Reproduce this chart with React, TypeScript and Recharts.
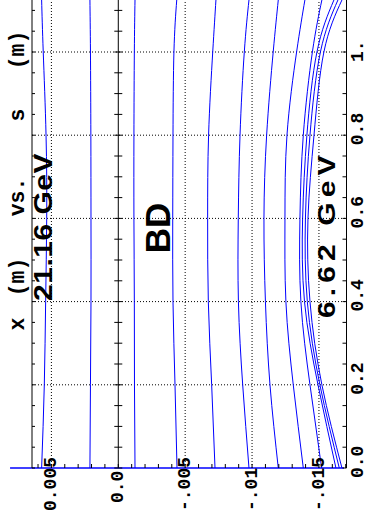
import React from "react";
import { LineChart, Line, XAxis, YAxis, ReferenceLine, ReferenceDot } from "recharts";

// s positions (m) where the orbits were read
const sPoints = [0, 0.2, 0.4, 0.6, 0.8, 1.0, 1.125];

// horizontal orbit x (m) for each trajectory
const orbit1 = [0.00573, 0.00553, 0.00543, 0.00535, 0.0054, 0.00561, 0.00573];
const orbit2 = [0.00212, 0.00208, 0.00204, 0.00204, 0.00205, 0.00208, 0.00212];
const orbit3 = [-0.00125, -0.00121, -0.0012, -0.00117, -0.00117, -0.0012, -0.00125];
const orbit4 = [-0.00439, -0.00424, -0.00409, -0.00407, -0.00409, -0.00416, -0.00437];
const orbit5 = [-0.00723, -0.00698, -0.00673, -0.00668, -0.00675, -0.00706, -0.0073];
const orbit6 = [-0.00977, -0.0093, -0.00898, -0.00897, -0.0091, -0.00942, -0.00977];
const orbit7 = [-0.01196, -0.01134, -0.011, -0.01089, -0.01109, -0.01158, -0.01196];
const orbit8 = [-0.01383, -0.01308, -0.01253, -0.01246, -0.01261, -0.01333, -0.01395];
const orbit9 = [-0.0152, -0.01433, -0.01365, -0.01358, -0.01383, -0.01451, -0.01522];
const orbit10 = [-0.01627, -0.01493, -0.01392, -0.01378, -0.0141, -0.01485, -0.01612];
const orbit11 = [-0.01652, -0.01507, -0.01413, -0.01399, -0.01433, -0.01511, -0.01642];
const orbit12 = [-0.01672, -0.01522, -0.01433, -0.01418, -0.01463, -0.01537, -0.01672];

const orbits = [orbit1, orbit2, orbit3, orbit4, orbit5, orbit6, orbit7, orbit8, orbit9, orbit10, orbit11, orbit12];

// beam line drawn along s = 0
const beamLine = [0.00809, -0.01687];

const xMajorTicks = [0.005, 0, -0.005, -0.01, -0.015];
const xTickLabels = ["0.005", "0.0", "-.005", "-.01", "-.015"];
const sMajorTicks = [0, 0.2, 0.4, 0.6, 0.8, 1.0];
const sTickLabels = ["0.0", "0.2", "0.4", "0.6", "0.8", "1."];

const xMinorTicks = Array.from({ length: 24 }, (_, i) => (i - 17) / 1000);
const sMinorTicks = Array.from({ length: 23 }, (_, i) => i / 20);

const rows = sPoints.map((s, i) => {
  const row: Record<string, number> = { s };
  orbits.forEach((o, k) => (row[`o${k + 1}`] = o[i]));
  return row;
});

const mono = "'Liberation Mono', 'DejaVu Sans Mono', monospace";
const sans = "'Liberation Sans', Arial, sans-serif";

const findLabel = (v: number, ticks: number[], labels: string[]) => {
  const i = ticks.findIndex((t) => Math.abs(t - v) < 1e-9);
  return i >= 0 ? labels[i] : null;
};

const BottomTick = (props: any) => {
  const { x, y, payload } = props;
  const label = findLabel(payload.value, xMajorTicks, xTickLabels);
  const start = label === "0.0" ? y + 35 : y + 43;
  return (
    <g>
      <line x1={x} y1={y} x2={x} y2={y - 4} stroke="#000" />
      {label && (
        <text
          transform={`translate(${x + 5},${start}) rotate(-90)`}
          textAnchor="start"
          fontFamily={mono}
          fontWeight="bold"
          fontSize={18}
          fill="#000"
        >
          {label}
        </text>
      )}
    </g>
  );
};

const TopTick = (props: any) => {
  const { x, y } = props;
  return <line x1={x} y1={y} x2={x} y2={y + 3} stroke="#000" />;
};

const LeftTick = (props: any) => {
  const { x, y } = props;
  return <line x1={x} y1={y} x2={x + 3} y2={y} stroke="#000" />;
};

const RightTick = (props: any) => {
  const { x, y, payload } = props;
  const label = findLabel(payload.value, sMajorTicks, sTickLabels);
  return (
    <g>
      <line x1={x} y1={y} x2={x - 4} y2={y} stroke="#000" />
      {label && (
        <text
          transform={`translate(${x + 16},${y + 10}) rotate(-90)`}
          textAnchor="start"
          fontFamily={mono}
          fontWeight="bold"
          fontSize={18}
          fill="#000"
        >
          {label}
        </text>
      )}
    </g>
  );
};

const ZeroTick = (props: any) => {
  const { cx, cy } = props;
  return <line x1={cx - 4} y1={cy} x2={cx + 4} y2={cy} stroke="#000" />;
};

export default function App() {
  return (
    <div style={{ position: "absolute", left: 0, top: 0, width: 368, height: 519, background: "#fff" }}>
      <LineChart
        width={368}
        height={519}
        data={rows}
        layout="vertical"
        margin={{ top: 0, right: 0, bottom: 0, left: 0 }}
      >
        <XAxis
          xAxisId={0}
          type="number"
          orientation="bottom"
          domain={[-0.01706, 0.00645]}
          allowDataOverflow
          reversed
          ticks={xMinorTicks}
          interval={0}
          height={51}
          axisLine={false}
          tickLine={false}
          tickSize={0}
          tickMargin={0}
          tick={<BottomTick />}
        />
        <XAxis
          xAxisId="top"
          type="number"
          orientation="top"
          domain={[-0.01706, 0.00645]}
          allowDataOverflow
          reversed
          ticks={xMinorTicks}
          interval={0}
          height={0}
          axisLine={false}
          tickLine={false}
          tickSize={0}
          tickMargin={0}
          tick={<TopTick />}
        />
        <YAxis
          yAxisId={0}
          type="number"
          dataKey="s"
          orientation="left"
          domain={[0, 1.125]}
          allowDataOverflow
          reversed
          ticks={sMinorTicks}
          interval={0}
          width={32}
          axisLine={{ stroke: "#000" }}
          tickLine={false}
          tickSize={0}
          tickMargin={0}
          tick={<LeftTick />}
        />
        <YAxis
          yAxisId="right"
          type="number"
          dataKey="s"
          orientation="right"
          domain={[0, 1.125]}
          allowDataOverflow
          reversed
          ticks={sMinorTicks}
          interval={0}
          width={21.5}
          axisLine={{ stroke: "#000" }}
          tickLine={false}
          tickSize={0}
          tickMargin={0}
          tick={<RightTick />}
        />
        {xMajorTicks
          .filter((v) => v !== 0)
          .map((v) => (
            <ReferenceLine key={`gx${v}`} x={v} stroke="#000" strokeDasharray="1 2" />
          ))}
        {sMajorTicks
          .filter((v) => v !== 0)
          .map((v) => (
            <ReferenceLine key={`gs${v}`} y={v} stroke="#000" strokeDasharray="1 2" />
          ))}
        <ReferenceLine x={0} stroke="#000" strokeWidth={1} />
        {sMinorTicks.map((s) => (
          <ReferenceDot key={`zt${s}`} x={0} y={s} r={0} ifOverflow="visible" shape={<ZeroTick />} />
        ))}
        {orbits.map((_, k) => (
          <Line
            key={k}
            dataKey={`o${k + 1}`}
            type="natural"
            stroke="#0000ff"
            strokeWidth={1}
            dot={false}
            activeDot={false}
            isAnimationActive={false}
          />
        ))}
        <ReferenceLine
          segment={[
            { x: beamLine[0], y: 0 },
            { x: beamLine[1], y: 0 },
          ]}
          stroke="#0000ff"
          strokeWidth={1.5}
          ifOverflow="visible"
        />
      </LineChart>
      <svg
        width={368}
        height={519}
        style={{ position: "absolute", left: 0, top: 0, pointerEvents: "none" }}
      >
        <g fontFamily={mono} fontWeight="bold" fontSize={21.5} fill="#000" textAnchor="middle">
          <text transform="translate(24,324) rotate(-90)">x</text>
          <text transform="translate(24,277) rotate(-90)">(m)</text>
          <text transform="translate(24,197) rotate(-90)">vs.</text>
          <text transform="translate(24,115) rotate(-90)">s</text>
          <text transform="translate(24,50) rotate(-90)">(m)</text>
        </g>
        <text
          transform="translate(52,301) rotate(-90) scale(1.2,1)"
          fontFamily={sans}
          fontWeight="bold"
          fontSize={25}
          textLength={123}
          lengthAdjust="spacing"
          fill="#000"
        >
          21.16 GeV
        </text>
        <text
          transform="translate(170,228) rotate(-90)"
          fontFamily={sans}
          fontWeight="bold"
          fontSize={35}
          textAnchor="middle"
          fill="#000"
        >
          BD
        </text>
        <text
          transform="translate(335,318) rotate(-90) scale(1.25,1)"
          fontFamily={sans}
          fontWeight="bold"
          fontSize={24}
          textLength={130}
          lengthAdjust="spacing"
          fill="#000"
        >
          6.62 GeV
        </text>
      </svg>
    </div>
  );
}
